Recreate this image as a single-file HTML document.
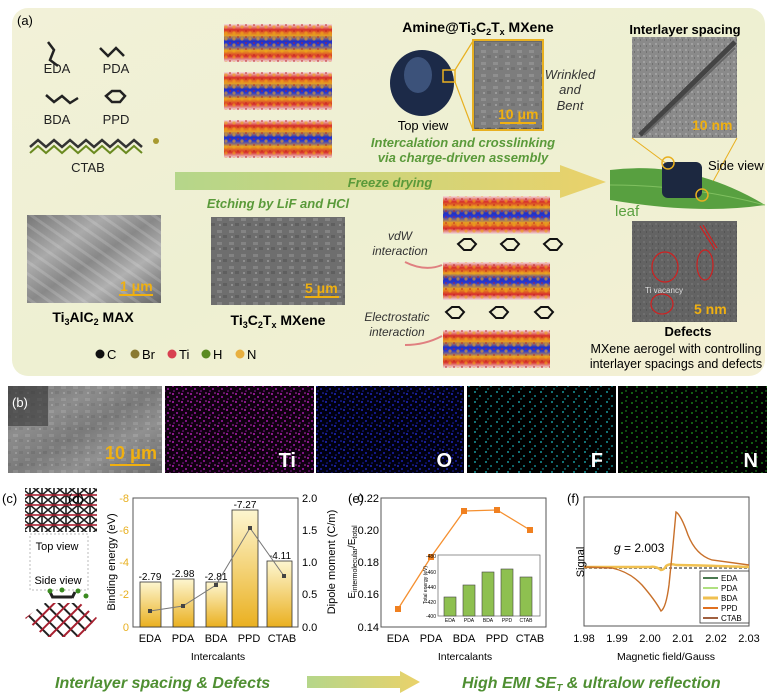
<!DOCTYPE html>
<html><head><meta charset="utf-8"><style>
html,body{margin:0;padding:0;background:#fff;}
svg{display:block;font-family:"Liberation Sans",sans-serif;}
</style></head><body>
<svg width="773" height="699" viewBox="0 0 773 699" xmlns="http://www.w3.org/2000/svg">
<defs>
<linearGradient id="bgA" x1="0" y1="0" x2="1" y2="1">
<stop offset="0" stop-color="#f2f1d8"/><stop offset="0.5" stop-color="#eef0d2"/><stop offset="1" stop-color="#f4f0d4"/></linearGradient>
<linearGradient id="arrowG" x1="0" x2="1"><stop offset="0" stop-color="#b5d68a"/><stop offset="1" stop-color="#ead26a"/></linearGradient>
<linearGradient id="stackG" x1="0" y1="0" x2="0" y2="1">
<stop offset="0" stop-color="#f3e0e0"/><stop offset="0.15" stop-color="#d8302a"/><stop offset="0.3" stop-color="#e8a020"/><stop offset="0.45" stop-color="#2030c8"/><stop offset="0.55" stop-color="#2a3ad0"/><stop offset="0.7" stop-color="#e8a020"/><stop offset="0.85" stop-color="#d8302a"/><stop offset="1" stop-color="#f0e0e0"/></linearGradient>
<pattern id="dots" width="8" height="6" patternUnits="userSpaceOnUse"><circle cx="2" cy="3" r="1.6" fill="#f0a818"/><circle cx="6" cy="1" r="1" fill="#c02020"/></pattern>
<linearGradient id="barG" x1="0" y1="0" x2="0" y2="1"><stop offset="0" stop-color="#fdf6d0"/><stop offset="1" stop-color="#eab020"/></linearGradient>
<linearGradient id="semA" x1="0" y1="0" x2="1" y2="1"><stop offset="0" stop-color="#777"/><stop offset="0.3" stop-color="#aaa"/><stop offset="0.5" stop-color="#888"/><stop offset="0.7" stop-color="#b0b0b0"/><stop offset="1" stop-color="#666"/></linearGradient>
<pattern id="streak" width="10" height="10" patternUnits="userSpaceOnUse" patternTransform="rotate(-55)"><rect width="10" height="10" fill="none"/><rect width="3" height="10" fill="#fff" opacity="0.15"/></pattern>
<pattern id="noise" width="12" height="12" patternUnits="userSpaceOnUse"><rect width="12" height="12" fill="#6a6a6a"/><rect x="1" y="2" width="5" height="3" fill="#888"/><rect x="7" y="7" width="4" height="3" fill="#555"/><rect x="3" y="8" width="2" height="2" fill="#999"/></pattern>
<pattern id="tem" width="6" height="6" patternUnits="userSpaceOnUse"><rect width="6" height="6" fill="#8a8a8a"/><rect x="1" y="1" width="2" height="2" fill="#a0a0a0"/><rect x="4" y="3" width="1" height="2" fill="#707070"/></pattern>
<pattern id="ti" width="9" height="8" patternUnits="userSpaceOnUse"><rect width="9" height="8" fill="#100010"/><circle cx="2" cy="2" r="1" fill="#b020b0"/><circle cx="6" cy="5" r="1" fill="#a018a8"/><circle cx="8" cy="1" r="0.8" fill="#c030c0"/><circle cx="3" cy="7" r="0.8" fill="#9018a0"/></pattern>
<pattern id="oo" width="9" height="8" patternUnits="userSpaceOnUse"><rect width="9" height="8" fill="#000010"/><circle cx="2" cy="2" r="1" fill="#2028c0"/><circle cx="6" cy="5" r="1" fill="#1820b0"/><circle cx="8" cy="1" r="0.8" fill="#2830d0"/><circle cx="3" cy="7" r="0.8" fill="#1820a8"/></pattern>
<pattern id="ff" width="11" height="10" patternUnits="userSpaceOnUse"><rect width="11" height="10" fill="#000"/><circle cx="2" cy="2" r="0.9" fill="#20c0c8"/><circle cx="7" cy="6" r="0.9" fill="#18a8b0"/><circle cx="4" cy="9" r="0.7" fill="#20b8c0"/></pattern>
<pattern id="nn" width="10" height="10" patternUnits="userSpaceOnUse"><rect width="10" height="10" fill="#000"/><circle cx="2" cy="3" r="0.9" fill="#20a020"/><circle cx="7" cy="7" r="0.9" fill="#189818"/><circle cx="6" cy="1" r="0.7" fill="#28b028"/></pattern>
<pattern id="lat" width="12" height="10" patternUnits="userSpaceOnUse"><rect width="12" height="10" fill="#fff"/><path d="M0 0L12 10M12 0L0 10M6 0V10" stroke="#222" stroke-width="1.6"/><path d="M0 5H12" stroke="#a82030" stroke-width="1.6"/></pattern>
<pattern id="lat2" width="10" height="10" patternUnits="userSpaceOnUse" patternTransform="rotate(45)"><rect width="10" height="10" fill="#fff"/><path d="M0 5H10" stroke="#222" stroke-width="2"/><path d="M5 0V10" stroke="#a82030" stroke-width="2"/></pattern>
</defs>

<rect x="12" y="8" width="753" height="368" rx="16" fill="url(#bgA)"/>
<text x="17" y="25" font-size="13">(a)</text>

<g stroke="#222" stroke-width="2.5" fill="none">
<path d="M48 42 L54 50 L50 60 L58 66"/>
<path d="M100 48 L108 56 L116 48 L124 56"/>
<path d="M46 95 L54 102 L62 96 L70 103 L78 98"/>
<path d="M106 96 l6 -5 l8 0 l5 5 l-5 6 l-8 0 z"/>
<path d="M30 147 L38 140 L46 147 L54 140 L62 147 L70 140 L78 147 L86 140 L94 147 L102 140 L110 147 L118 140 L126 147 L134 140 L142 147" stroke="#333"/>
<path d="M30 153 L38 146 L46 153 L54 146 L62 153 L70 146 L78 153 L86 146 L94 153 L102 146 L110 153 L118 146 L126 153 L134 146 L142 153" stroke="#6a8a20" stroke-width="2"/>
</g>
<circle cx="156" cy="141" r="3" fill="#a89a30"/>
<g font-size="13" fill="#222" text-anchor="middle">
<text x="57" y="73">EDA</text><text x="116" y="73">PDA</text>
<text x="57" y="124">BDA</text><text x="116" y="124">PPD</text>
<text x="88" y="172">CTAB</text></g>

<g>
<rect x="224" y="24" width="108" height="38" fill="url(#stackG)"/><rect x="224" y="24" width="108" height="38" fill="url(#dots)" opacity="0.6"/>
<rect x="224" y="72" width="108" height="38" fill="url(#stackG)"/><rect x="224" y="72" width="108" height="38" fill="url(#dots)" opacity="0.6"/>
<rect x="224" y="120" width="108" height="38" fill="url(#stackG)"/><rect x="224" y="120" width="108" height="38" fill="url(#dots)" opacity="0.6"/>
</g>

<text x="478" y="32" font-size="14" font-weight="bold" text-anchor="middle">Amine@Ti<tspan font-size="9" dy="3">3</tspan><tspan dy="-3">C</tspan><tspan font-size="9" dy="3">2</tspan><tspan dy="-3">T</tspan><tspan font-size="9" dy="3">x</tspan><tspan dy="-3"> MXene</tspan></text>
<ellipse cx="422" cy="83" rx="32" ry="33" fill="#1c2a48"/>
<ellipse cx="418" cy="75" rx="14" ry="18" fill="#4a6490" opacity="0.7"/>
<rect x="443" y="70" width="12" height="12" fill="none" stroke="#e8b020" stroke-width="1.5"/>
<path d="M455 70 L473 41 M455 82 L473 130" stroke="#e8b020" stroke-width="1.2"/>
<rect x="473" y="40" width="70" height="90" fill="url(#noise)" stroke="#e8b020" stroke-width="2"/>
<rect x="475" y="42" width="66" height="86" fill="#9a9a9a" opacity="0.4"/>
<text x="498" y="119" font-size="14" font-weight="bold" fill="#f0b010">10 μm</text>
<rect x="500" y="122" width="36" height="2" fill="#f0b010"/>
<g font-size="13" font-style="italic" fill="#333" text-anchor="middle"><text x="570" y="79">Wrinkled</text><text x="570" y="94">and</text><text x="570" y="110">Bent</text></g>
<text x="423" y="130" font-size="13" text-anchor="middle">Top view</text>
<g font-size="13" font-style="italic" font-weight="bold" fill="#5a9a3a" text-anchor="middle"><text x="463" y="147">Intercalation and crosslinking</text><text x="463" y="162">via charge-driven assembly</text></g>

<path d="M175 172 L560 172 L560 165 L606 182 L560 198 L560 190 L175 190 Z" fill="url(#arrowG)"/>
<text x="390" y="187" font-size="13" font-style="italic" font-weight="bold" fill="#5a9a3a" text-anchor="middle">Freeze drying</text>
<text x="278" y="208" font-size="13" font-style="italic" font-weight="bold" fill="#5a9a3a" text-anchor="middle">Etching by LiF and HCl</text>

<rect x="27" y="215" width="134" height="88" fill="url(#semA)"/>
<rect x="27" y="215" width="134" height="88" fill="url(#streak)"/>
<text x="120" y="291" font-size="14" font-weight="bold" fill="#f0b010">1 μm</text><rect x="119" y="294" width="34" height="2" fill="#f0b010"/>
<text x="93" y="322" font-size="14" font-weight="bold" text-anchor="middle">Ti<tspan font-size="9" dy="3">3</tspan><tspan dy="-3">AlC</tspan><tspan font-size="9" dy="3">2</tspan><tspan dy="-3"> MAX</tspan></text>
<rect x="211" y="217" width="134" height="88" fill="url(#noise)"/>
<rect x="211" y="217" width="134" height="88" fill="#777" opacity="0.3"/>
<text x="305" y="293" font-size="14" font-weight="bold" fill="#f0b010">5 μm</text><rect x="305" y="296" width="34" height="2" fill="#f0b010"/>
<text x="278" y="325" font-size="14" font-weight="bold" text-anchor="middle">Ti<tspan font-size="9" dy="3">3</tspan><tspan dy="-3">C</tspan><tspan font-size="9" dy="3">2</tspan><tspan dy="-3">T</tspan><tspan font-size="9" dy="3">x</tspan><tspan dy="-3"> MXene</tspan></text>

<g font-size="13"><circle cx="100" cy="354" r="4.5" fill="#111"/><text x="107" y="359">C</text>
<circle cx="135" cy="354" r="4.5" fill="#8a7a30"/><text x="142" y="359">Br</text>
<circle cx="172" cy="354" r="4.5" fill="#d84050"/><text x="179" y="359">Ti</text>
<circle cx="206" cy="354" r="4.5" fill="#5a8a20"/><text x="213" y="359">H</text>
<circle cx="240" cy="354" r="4.5" fill="#e8b040"/><text x="247" y="359">N</text></g>

<g>
<rect x="443" y="196" width="107" height="38" fill="url(#stackG)"/><rect x="443" y="196" width="107" height="38" fill="url(#dots)" opacity="0.6"/>
<rect x="443" y="262" width="107" height="38" fill="url(#stackG)"/><rect x="443" y="262" width="107" height="38" fill="url(#dots)" opacity="0.6"/>
<rect x="443" y="330" width="107" height="38" fill="url(#stackG)"/><rect x="443" y="330" width="107" height="38" fill="url(#dots)" opacity="0.6"/>
</g>
<g stroke="#111" stroke-width="2" fill="none">
<path d="M458 244 l6 -5 l7 0 l5 5 l-5 6 l-7 0 z"/><path d="M501 244 l6 -5 l7 0 l5 5 l-5 6 l-7 0 z"/><path d="M544 244 l6 -5 l7 0 l5 5 l-5 6 l-7 0 z"/>
<path d="M446 312 l6 -5 l7 0 l5 5 l-5 6 l-7 0 z"/><path d="M490 312 l6 -5 l7 0 l5 5 l-5 6 l-7 0 z"/><path d="M535 312 l6 -5 l7 0 l5 5 l-5 6 l-7 0 z"/>
</g>
<g font-size="12" font-style="italic" fill="#333" text-anchor="middle"><text x="400" y="240">vdW</text><text x="400" y="255">interaction</text>
<text x="397" y="321">Electrostatic</text><text x="397" y="336">interaction</text></g>
<path d="M405 262 Q425 272 442 265" stroke="#e08080" stroke-width="2" fill="none"/>
<path d="M405 345 Q425 345 442 336" stroke="#e08080" stroke-width="2" fill="none"/>

<text x="685" y="34" font-size="13" font-weight="bold" text-anchor="middle">Interlayer spacing</text>
<rect x="632" y="37" width="105" height="101" fill="url(#tem)"/>
<path d="M640 135 L735 42" stroke="#444" stroke-width="5"/><path d="M644 135 L735 48" stroke="#666" stroke-width="2"/>
<text x="692" y="130" font-size="14" font-weight="bold" fill="#f0b010">10 nm</text>
<path d="M632 138 L667 164 M737 138 L705 196" stroke="#e8b020" stroke-width="1"/>
<path d="M610 170 Q690 160 765 205 Q700 215 610 200 Z" fill="#58a040"/>
<path d="M610 185 Q690 185 765 205" stroke="#80c060" stroke-width="1" fill="none"/>
<rect x="662" y="162" width="40" height="36" rx="6" fill="#1c2840"/>
<circle cx="668" cy="163" r="6" fill="none" stroke="#e8b020" stroke-width="1.5"/>
<circle cx="702" cy="195" r="6" fill="none" stroke="#e8b020" stroke-width="1.5"/>
<text x="708" y="170" font-size="13">Side view</text>
<text x="615" y="216" font-size="15" fill="#5aa040">leaf</text>
<rect x="632" y="221" width="105" height="101" fill="url(#tem)"/>
<rect x="632" y="221" width="105" height="101" fill="#333" opacity="0.45"/>
<g fill="none" stroke="#d02020" stroke-width="1.2"><ellipse cx="665" cy="267" rx="13" ry="15"/><ellipse cx="705" cy="265" rx="8" ry="15"/><ellipse cx="662" cy="304" rx="11" ry="10"/><path d="M700 226 L715 250 M703 225 L717 248"/></g>
<text x="645" y="293" font-size="8" fill="#ddd">Ti vacancy</text>
<text x="694" y="314" font-size="14" font-weight="bold" fill="#f0b010">5 nm</text>
<text x="688" y="336" font-size="13" font-weight="bold" text-anchor="middle">Defects</text>
<g font-size="12.5" text-anchor="middle"><text x="676" y="353">MXene aerogel with controlling</text><text x="676" y="368">interlayer spacings and defects</text></g>

<rect x="8" y="386" width="154" height="87" fill="url(#semA)"/>
<rect x="8" y="386" width="154" height="87" fill="url(#noise)" opacity="0.45"/>
<rect x="8" y="386" width="40" height="40" fill="#333" opacity="0.6"/>
<text x="12" y="407" font-size="13" fill="#fff">(b)</text>
<text x="105" y="459" font-size="18" font-weight="bold" fill="#f0b010">10 μm</text><rect x="110" y="464" width="40" height="2" fill="#f0b010"/>
<rect x="165" y="386" width="149" height="87" fill="url(#ti)"/><text x="296" y="467" font-size="20" font-weight="bold" fill="#fff" text-anchor="end">Ti</text>
<rect x="316" y="386" width="148" height="87" fill="url(#oo)"/><text x="452" y="467" font-size="20" font-weight="bold" fill="#fff" text-anchor="end">O</text>
<rect x="467" y="386" width="149" height="87" fill="url(#ff)"/><text x="603" y="467" font-size="20" font-weight="bold" fill="#fff" text-anchor="end">F</text>
<rect x="618" y="386" width="149" height="87" fill="url(#nn)"/><text x="758" y="467" font-size="20" font-weight="bold" fill="#fff" text-anchor="end">N</text>

<rect x="25" y="488" width="72" height="44" fill="url(#lat)"/>
<text x="2" y="503" font-size="13">(c)</text>
<rect x="30" y="534" width="58" height="56" fill="none" stroke="#bbb" stroke-dasharray="2,2"/>
<text x="57" y="550" font-size="11" text-anchor="middle">Top view</text>
<text x="58" y="584" font-size="11" text-anchor="middle">Side view</text>
<path d="M52 597 H72 M50 592 l3 6 M75 592 l-3 6" stroke="#222" stroke-width="3"/>
<circle cx="50" cy="591" r="2.5" fill="#3a8a20"/><circle cx="62" cy="590" r="2.5" fill="#3a8a20"/><circle cx="78" cy="591" r="2.5" fill="#3a8a20"/><circle cx="86" cy="596" r="2.5" fill="#3a8a20"/>
<polygon points="25,618 45,603 80,603 97,618 80,637 45,637" fill="url(#lat2)"/>

<text x="68" y="503" font-size="13">(d)</text>
<g font-size="11">
<rect x="133" y="498" width="165" height="129" fill="none" stroke="#555" stroke-width="1"/>
<g fill="url(#barG)" stroke="#333" stroke-width="0.8">
<rect x="140" y="582" width="21" height="45"/>
<rect x="173" y="579" width="21" height="48"/>
<rect x="206" y="582" width="21" height="45"/>
<rect x="232" y="510" width="26" height="117"/>
<rect x="267" y="561" width="25" height="66"/>
</g>
<g text-anchor="middle" font-size="10"><text x="150" y="580">-2.79</text><text x="183" y="577">-2.98</text><text x="216" y="580">-2.81</text><text x="245" y="508">-7.27</text><text x="280" y="559">-4.11</text></g>
<polyline points="150,611 183,606 216,585 250,528 284,576" fill="none" stroke="#777" stroke-width="1"/>
<g fill="#444"><rect x="148" y="609" width="4" height="4"/><rect x="181" y="604" width="4" height="4"/><rect x="214" y="583" width="4" height="4"/><rect x="248" y="526" width="4" height="4"/><rect x="282" y="574" width="4" height="4"/></g>
<g fill="#e8b020" text-anchor="end"><text x="129" y="502">-8</text><text x="129" y="534">-6</text><text x="129" y="566">-4</text><text x="129" y="598">-2</text><text x="129" y="631">0</text></g>
<text x="302" y="502">2.0</text><text x="302" y="534">1.5</text><text x="302" y="566">1.0</text><text x="302" y="598">0.5</text><text x="302" y="631">0.0</text>
<g text-anchor="middle"><text x="150" y="642">EDA</text><text x="183" y="642">PDA</text><text x="216" y="642">BDA</text><text x="249" y="642">PPD</text><text x="282" y="642">CTAB</text>
<text x="218" y="660" font-size="10.5">Intercalants</text></g>
<text transform="translate(115,562) rotate(-90)" text-anchor="middle" font-size="11">Binding energy (eV)</text>
<text transform="translate(335,562) rotate(-90)" text-anchor="middle" font-size="11">Dipole moment (C/m)</text>
</g>

<g font-size="11">
<text x="348" y="503" font-size="13">(e)</text>
<rect x="381" y="498" width="165" height="129" fill="none" stroke="#555"/>
<g text-anchor="end"><text x="379" y="502">0.22</text><text x="379" y="534">0.20</text><text x="379" y="566">0.18</text><text x="379" y="598">0.16</text><text x="379" y="631">0.14</text></g>
<polyline points="398,609 431,557 464,511 497,510 530,530" fill="none" stroke="#f59030" stroke-width="1.3"/>
<g fill="#f08020"><rect x="395" y="606" width="6" height="6"/><rect x="428" y="554" width="6" height="6"/><rect x="461" y="508" width="6" height="6"/><rect x="494" y="507" width="6" height="6"/><rect x="527" y="527" width="6" height="6"/></g>
<rect x="438" y="555" width="102" height="61" fill="#fff" stroke="#666" stroke-width="0.7"/>
<g fill="#8ec050" stroke="#444" stroke-width="0.6"><rect x="444" y="597" width="12" height="19"/><rect x="463" y="585" width="12" height="31"/><rect x="482" y="572" width="12" height="44"/><rect x="501" y="569" width="12" height="47"/><rect x="520" y="577" width="12" height="39"/></g>
<g font-size="5" text-anchor="middle"><text x="450" y="622">EDA</text><text x="469" y="622">PDA</text><text x="488" y="622">BDA</text><text x="507" y="622">PPD</text><text x="526" y="622">CTAB</text>
<text transform="translate(427,585) rotate(-90)">Total energy (eV)</text></g>
<g font-size="5" text-anchor="end"><text x="436" y="558">-480</text><text x="436" y="574">-460</text><text x="436" y="589">-440</text><text x="436" y="604">-420</text><text x="436" y="618">-400</text></g>
<g text-anchor="middle"><text x="398" y="642">EDA</text><text x="431" y="642">PDA</text><text x="464" y="642">BDA</text><text x="497" y="642">PPD</text><text x="530" y="642">CTAB</text>
<text x="465" y="660" font-size="10.5">Intercalants</text></g>
<text transform="translate(355,562) rotate(-90)" text-anchor="middle" font-size="10">E<tspan font-size="7" dy="2">intermolecular</tspan><tspan dy="-2">/E</tspan><tspan font-size="7" dy="2">total</tspan></text>
</g>

<g font-size="11">
<text x="567" y="503" font-size="13">(f)</text>
<rect x="584" y="497" width="165" height="129" fill="none" stroke="#555"/>
<text x="614" y="552" font-size="12"><tspan font-style="italic">g</tspan> = 2.003</text>
<line x1="584" y1="568" x2="749" y2="568" stroke="#888" stroke-width="2" stroke-dasharray="3,2"/>
<path d="M584 567 L650 567 Q656 566 661 570 Q664 570 666 566 Q670 563 676 565 Q690 565 749 567" fill="none" stroke="#f0c050" stroke-width="2.5"/>
<path d="M584 567 L612 568 Q630 572 642 585 Q655 600 661 611 Q666 608 669 585 L673 545 L676 512 Q681 515 688 535 Q696 555 712 560 L749 565" fill="none" stroke="#c8702a" stroke-width="1.4"/>
<rect x="700" y="571" width="49" height="52" fill="#fff" stroke="#333" stroke-width="0.8"/>
<g font-size="8"><line x1="703" y1="578" x2="718" y2="578" stroke="#4a7a50" stroke-width="2"/><text x="721" y="581">EDA</text>
<line x1="703" y1="588" x2="718" y2="588" stroke="#b0e080" stroke-width="2"/><text x="721" y="591">PDA</text>
<line x1="703" y1="598" x2="718" y2="598" stroke="#f0c050" stroke-width="3"/><text x="721" y="601">BDA</text>
<line x1="703" y1="608" x2="718" y2="608" stroke="#e07020" stroke-width="2"/><text x="721" y="611">PPD</text>
<line x1="703" y1="618" x2="718" y2="618" stroke="#a06040" stroke-width="2"/><text x="721" y="621">CTAB</text></g>
<g text-anchor="middle"><text x="584" y="642">1.98</text><text x="617" y="642">1.99</text><text x="650" y="642">2.00</text><text x="683" y="642">2.01</text><text x="716" y="642">2.02</text><text x="749" y="642">2.03</text>
<text x="666" y="660" font-size="10.5">Magnetic field/Gauss</text></g>
<text transform="translate(584,562) rotate(-90)" text-anchor="middle" font-size="11">Signal</text>
</g>

<g font-size="16" font-style="italic" font-weight="bold" fill="#4f8f32">
<text x="55" y="688">Interlayer spacing &amp; Defects</text>
<text x="462" y="688">High EMI SE<tspan font-size="10" dy="3">T</tspan><tspan dy="-3"> &amp; ultralow reflection</tspan></text>
</g>
<path d="M307 676 L400 676 L400 671 L420 682 L400 693 L400 688 L307 688 Z" fill="url(#arrowG)"/>
</svg>
</body></html>
